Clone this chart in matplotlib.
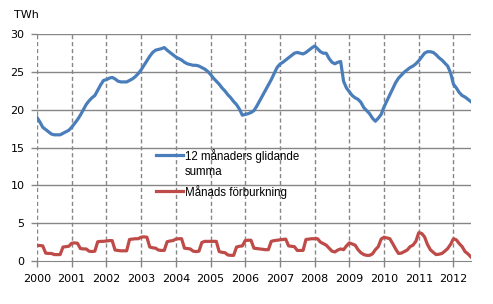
import numpy as np
import matplotlib.pyplot as plt

# monthly values Jan 2000 - Jul 2012, TWh
rolling_12m = [
    19.0, 18.4, 17.7, 17.4, 17.1, 16.8, 16.7, 16.7, 16.7, 16.9, 17.1, 17.3,
    17.7, 18.2, 18.7, 19.3, 20.0, 20.7, 21.2, 21.6, 21.9, 22.6, 23.3, 23.9,
    24.0, 24.2, 24.3, 24.1, 23.8, 23.7, 23.7, 23.7, 23.9, 24.1, 24.4, 24.8,
    25.3, 25.9, 26.5, 27.1, 27.6, 27.9, 28.0, 28.1, 28.25, 27.9, 27.6, 27.3,
    27.0, 26.8, 26.6, 26.3, 26.1, 26.0, 25.9, 25.9, 25.8, 25.6, 25.4, 25.1,
    24.7, 24.2, 23.8, 23.4, 22.9, 22.5, 22.0, 21.6, 21.1, 20.7, 20.1, 19.3,
    19.4, 19.5, 19.65, 19.9, 20.5, 21.2, 21.9, 22.6, 23.3, 24.0, 24.8, 25.6,
    26.05, 26.3, 26.6, 26.9, 27.2, 27.5, 27.6, 27.5, 27.4, 27.6, 27.9, 28.2,
    28.45, 28.1, 27.7, 27.5, 27.5, 26.8, 26.3, 26.1, 26.3, 26.4, 23.8, 22.9,
    22.4, 21.9, 21.6, 21.4, 21.0, 20.3, 19.9, 19.5, 18.9, 18.5, 18.9, 19.4,
    20.4, 21.2, 22.0, 22.8, 23.6, 24.2, 24.6, 25.0, 25.3, 25.6, 25.8, 26.1,
    26.5, 27.0, 27.5, 27.7, 27.7, 27.6, 27.3, 26.9, 26.6, 26.2, 25.8, 24.9,
    23.4, 22.9, 22.3, 21.9, 21.7, 21.4, 21.1,
]
monthly = [
    2.05, 2.05, 2.0, 1.05, 1.0, 1.0, 0.85, 0.85, 0.85, 1.85, 1.9, 1.95,
    2.35, 2.4, 2.35, 1.65, 1.6, 1.6, 1.3, 1.25, 1.3, 2.55, 2.6, 2.6,
    2.65, 2.7, 2.7, 1.45, 1.4, 1.35, 1.35, 1.35, 2.85, 2.9, 2.95, 2.95,
    3.15, 3.2, 3.15, 1.85, 1.75, 1.7, 1.45, 1.4, 1.4, 2.55, 2.65, 2.7,
    2.9, 2.95, 2.95, 1.7, 1.65, 1.6, 1.3, 1.25, 1.3, 2.45, 2.6, 2.6,
    2.6, 2.6, 2.6, 1.25, 1.15, 1.1, 0.8, 0.75, 0.75, 1.85, 1.95, 2.0,
    2.7, 2.75, 2.75, 1.7, 1.65, 1.6, 1.55, 1.5, 1.5, 2.6, 2.7, 2.75,
    2.8, 2.85, 2.9, 2.0, 1.95, 1.9, 1.4, 1.4, 1.4, 2.85, 2.9, 2.95,
    2.95, 2.95, 2.5, 2.3, 2.1, 1.7, 1.3, 1.2, 1.45, 1.6, 1.5, 2.0,
    2.4, 2.25, 2.1, 1.5, 1.1, 0.85, 0.75, 0.75, 0.95, 1.5, 1.9, 2.9,
    3.15, 3.05, 2.95, 2.3, 1.6, 1.0, 1.05, 1.25, 1.45, 1.9, 2.1, 2.6,
    3.75, 3.65, 3.2, 2.2, 1.5, 1.15, 0.85, 0.9, 1.0, 1.3, 1.65, 2.2,
    2.95, 2.8, 2.3, 1.9, 1.25, 0.95, 0.55,
]
years = list(range(2000, 2013))
y_ticks = [0, 5, 10, 15, 20, 25, 30]
blue, red = '#4a7ebb', '#be4b48'

x = np.arange(len(rolling_12m))

fig = plt.figure(figsize=(4.93, 3.04), dpi=100)
ax = fig.add_axes([0.075, 0.1414, 0.88, 0.7457])

grid_col = '#868686'
ax.plot(x, rolling_12m, color=blue, lw=2.3, zorder=3)
ax.plot(x, monthly, color=red, lw=2.3, zorder=3)

ax.set_xlim(0, len(rolling_12m) - 1)
ax.set_ylim(0, 30)
ax.set_xticks([12 * i for i in range(len(years))])
ax.set_xticklabels([str(y) for y in years])
ax.set_yticks(y_ticks)

for v in y_ticks[1:]:
    ax.axhline(v, color=grid_col, lw=1, zorder=1)
for i in range(len(years)):
    ax.axvline(12 * i, color=grid_col, lw=1, ls=(0, (3, 2)), zorder=1)

for s in ['top', 'right', 'left']:
    ax.spines[s].set_visible(False)
ax.spines['bottom'].set_color(grid_col)
ax.tick_params(axis='both', colors=grid_col, labelcolor='black', labelsize=8, length=4, width=1)
ax.tick_params(axis='x', pad=5.5)
ax.tick_params(axis='y', pad=5)

fig.text(0.028, 0.95, 'TWh', fontsize=8, va='center')

# legend drawn by hand so the handle sits on the first text line
lf = {'family': 'Liberation Sans', 'size': 8.3}
ax.plot([0.274, 0.336], [0.4676, 0.4676], color=blue, lw=2.3, transform=ax.transAxes, clip_on=False)
ax.text(0.341, 0.4645, '12 månaders glidande', transform=ax.transAxes, va='center', fontdict=lf)
ax.text(0.341, 0.3912, 'summa', transform=ax.transAxes, va='center', fontdict=lf)
ax.plot([0.274, 0.336], [0.3088, 0.3088], color=red, lw=2.3, transform=ax.transAxes, clip_on=False)
ax.text(0.341, 0.3057, 'Månads förburkning', transform=ax.transAxes, va='center', fontdict=lf)

fig.savefig('out.png', dpi=100)
